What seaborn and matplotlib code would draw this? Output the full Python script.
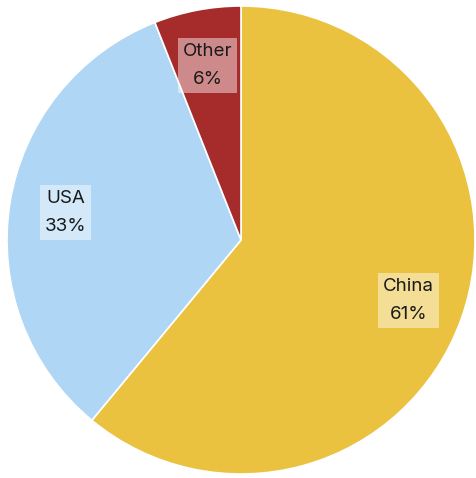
import matplotlib
matplotlib.use("Agg")
import matplotlib.pyplot as plt
import seaborn as sns

categories = ["China", "USA", "Other"]
values = [61, 33, 6]
colors = ["#EBC240", "#B0D6F5", "#A62B2B"]

sns.set_theme(style="white")
plt.rcParams['font.family'] = ['Inter', 'DejaVu Sans']

fig = plt.figure(figsize=(4.77, 4.78), dpi=100)
W, H = 477, 478
ax = fig.add_axes([7 / W, (H - 474) / H, 468 / W, 468 / H])
labels = [f"{c}\n{v}%" for c, v in zip(categories, values)]
wedges, texts = ax.pie(values, labels=labels, colors=colors, startangle=90,
                       counterclock=False, labeldistance=0.76,
                       wedgeprops=dict(edgecolor="white", linewidth=1.2),
                       textprops=dict(fontsize=13.5, color="#1a1a1a", ha="center", va="center",
                                      linespacing=1.85))
for t in texts:
    t.set_horizontalalignment("center")
    t.set_bbox(dict(facecolor="white", alpha=0.45, edgecolor="none", pad=3.5))
ax.set_xlim(-1, 1)
ax.set_ylim(-1, 1)
ax.set_aspect("equal")
ax.axis("off")
fig.savefig("out.png", dpi=100)
